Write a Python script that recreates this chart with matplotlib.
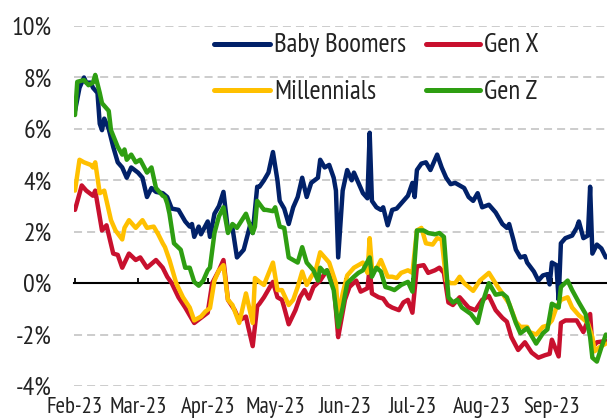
import os
import matplotlib
matplotlib.use("Agg")
import matplotlib.pyplot as plt
from matplotlib import font_manager as fm
from matplotlib.font_manager import FontProperties
from matplotlib.lines import Line2D
import pandas as pd

# ---------------- data (days since 2023-02-01, YoY % change) ----------------
bb_day = [0, 2, 4, 5, 7, 8, 10, 11, 12, 13, 15, 17, 19, 21, 23, 25, 28, 30, 32, 34, 36, 39, 41, 43, 46, 49,
          51, 52, 53, 55, 56, 59, 60, 62, 64, 66, 68, 70, 72, 75, 78, 79, 81, 82, 84, 86, 88, 90, 91, 93, 95,
          97, 99, 101, 103, 105, 108, 109, 111, 113, 115, 116, 117, 119, 120, 121, 123, 124, 128, 130, 131,
          132, 134, 136, 137, 139, 141, 143, 145, 148, 150, 151, 152, 154, 156, 158, 160, 161, 163, 165, 167,
          169, 171, 173, 175, 177, 179, 181, 184, 187, 190, 192, 193, 195, 196, 198, 200, 201, 204, 206, 208,
          210, 211, 212, 214, 215, 216, 218, 221, 223, 224, 226, 228, 229, 230, 232, 234, 236]
bb_val = [6.7, 7.6, 8.0, 7.8, 7.8, 7.6, 7.4, 6.2, 5.95, 6.4, 6.0, 5.3, 4.7, 4.5, 4.1, 4.5, 4.3, 4.1, 3.35, 3.7,
          3.55, 3.5, 3.35, 2.9, 2.85, 2.4, 2.2, 2.3, 1.8, 2.2, 1.9, 2.4, 1.8, 2.7, 3.0, 3.55, 2.05, 2.15, 1.0,
          1.3, 2.3, 1.95, 3.75, 3.75, 4.0, 4.3, 5.1, 4.0, 3.2, 2.9, 2.3, 2.95, 3.35, 4.1, 3.35, 3.9, 4.1, 4.8,
          4.5, 4.6, 4.1, 3.6, 1.0, 3.6, 4.0, 4.4, 4.0, 4.3, 3.5, 3.3, 5.85, 3.2, 2.95, 2.85, 2.95, 2.25, 2.85,
          2.9, 3.1, 3.4, 3.9, 3.35, 4.4, 4.65, 4.7, 4.4, 4.8, 5.0, 4.5, 4.1, 3.85, 3.9, 3.8, 3.7, 3.35, 3.2,
          3.5, 2.95, 3.05, 2.75, 2.3, 2.15, 2.3, 1.65, 1.3, 1.0, 1.05, 0.8, 0.45, 0.1, 0.3, 0.35, -0.05, 0.8,
          0.7, -0.65, 1.55, 1.75, 1.85, 2.15, 2.4, 1.75, 1.85, 3.75, 1.15, 1.5, 1.35, 1.0]

gx_day = [0, 3, 5, 8, 9, 12, 14, 17, 19, 21, 24, 27, 29, 32, 36, 39, 41, 43, 46, 49, 53, 56, 59, 61, 64, 66,
          68, 71, 73, 76, 77, 79, 81, 82, 84, 88, 90, 92, 93, 95, 98, 100, 102, 104, 106, 109, 112, 115, 117,
          120, 122, 125, 127, 130, 131, 132, 135, 137, 139, 141, 144, 146, 148, 150, 152, 155, 157, 160, 162,
          164, 166, 168, 171, 175, 178, 181, 184, 187, 190, 192, 194, 197, 200, 203, 206, 209, 211, 212, 215,
          216, 218, 223, 226, 229, 230, 232, 236]
gx_val = [2.85, 3.8, 3.6, 3.4, 3.6, 2.05, 2.25, 1.15, 1.1, 0.6, 1.15, 0.9, 1.0, 0.6, 0.9, 0.6, 0.25, 0.0,
          -0.55, -0.95, -1.55, -1.35, -1.15, 0.0, 0.5, 0.9, -0.65, -1.05, -1.45, -1.3, -1.7, -2.45, -0.9, -0.8,
          -0.55, 0.05, -0.55, -0.65, -0.95, -1.6, -1.05, -0.55, -0.27, -0.6, -0.15, 0.1, 0.5, 0.0, -2.1, -0.65,
          -0.15, 0.1, -0.33, -0.2, 0.6, -0.4, -0.55, -0.6, -0.85, -0.95, -1.05, -0.75, -0.65, -1.15, 0.65, 0.7,
          0.4, 0.5, 0.6, 0.4, -0.75, -0.85, -0.55, -0.95, -1.05, -0.65, -0.5, -1.05, -1.35, -1.5, -2.1, -2.6,
          -2.3, -2.7, -2.9, -2.8, -2.75, -2.2, -2.85, -1.55, -1.45, -1.45, -1.9, -1.2, -2.5, -2.3, -2.25]

ml_day = [0, 2, 4, 7, 8, 9, 11, 13, 16, 18, 21, 22, 24, 27, 30, 32, 35, 37, 39, 40, 41, 42, 45, 48, 51, 53,
          56, 58, 60, 62, 64, 66, 68, 70, 73, 76, 79, 80, 82, 84, 88, 90, 92, 95, 97, 99, 101, 103, 105, 107,
          109, 111, 113, 116, 117, 119, 121, 124, 128, 130, 131, 132, 134, 136, 139, 141, 143, 145, 148, 150,
          152, 154, 156, 159, 161, 163, 165, 167, 169, 171, 173, 177, 180, 184, 188, 190, 193, 196, 198, 201,
          202, 205, 208, 210, 212, 214, 216, 219, 221, 224, 228, 230, 231, 233, 236]
ml_val = [3.6, 4.8, 4.7, 4.6, 4.5, 4.7, 3.5, 3.6, 2.45, 2.05, 1.7, 2.15, 2.45, 2.15, 2.45, 2.15, 2.2, 1.9,
          1.55, 1.4, 1.15, 0.9, 0.0, -0.55, -0.95, -1.45, -1.3, -1.1, -0.97, 0.1, 0.5, 0.7, -0.65, -0.85, -1.55,
          -0.4, -1.55, 0.2, 0.05, -0.07, 0.8, -0.27, -0.27, -0.85, -0.65, -0.15, 0.45, -0.07, 0.25, 0.5, 1.2,
          1.0, 0.8, 0.0, -1.3, -0.4, 0.3, 0.6, 0.8, 0.4, 1.75, 0.6, 0.55, 0.9, 0.25, 0.25, 0.2, 0.4, 0.5, 0.4,
          2.05, 2.15, 1.55, 1.5, 1.75, 1.7, 0.1, 0.0, 0.0, 0.25, 0.0, -0.3, 0.1, 0.4, -0.15, -0.4, -0.8, -1.5,
          -1.7, -1.7, -1.9, -2.0, -1.7, -1.65, -1.45, -0.95, -0.65, -0.55, -0.95, -1.25, -1.55, -2.1, -2.65,
          -2.5, -2.35]

gz_day = [0, 1, 4, 6, 8, 9, 11, 12, 15, 16, 19, 21, 22, 23, 25, 27, 29, 32, 34, 36, 39, 40, 41, 42, 44, 47,
          49, 51, 53, 55, 57, 59, 60, 62, 64, 66, 68, 70, 72, 76, 79, 80, 81, 84, 85, 88, 89, 91, 93, 95, 97,
          99, 101, 103, 104, 106, 108, 109, 111, 112, 115, 117, 119, 121, 124, 126, 128, 131, 132, 134, 136,
          138, 140, 142, 145, 148, 150, 152, 155, 157, 160, 162, 164, 166, 168, 170, 172, 176, 179, 181, 184,
          187, 190, 192, 195, 196, 198, 201, 204, 205, 208, 210, 212, 215, 216, 219, 221, 224, 227, 229, 230,
          232, 234, 236]
gz_val = [6.54, 7.83, 7.9, 7.7, 7.8, 8.1, 7.4, 7.0, 6.7, 5.95, 5.3, 5.0, 5.2, 4.8, 5.0, 4.7, 4.8, 4.3, 4.5,
          3.7, 3.4, 3.35, 3.1, 2.7, 1.55, 1.3, 0.6, 0.6, 0.05, -0.1, 0.1, 0.5, 0.6, 1.95, 2.6, 2.95, 1.95, 2.3,
          2.15, 2.7, 1.95, 2.2, 3.2, 2.85, 2.85, 2.8, 2.95, 2.2, 2.15, 1.0, 0.9, 0.8, 1.4, 0.8, 0.7, 0.5, 0.1,
          0.6, 0.4, 0.5, -0.27, -1.7, -0.95, 0.0, 0.25, 0.4, 0.5, 1.0, 0.25, 0.6, 0.45, -0.15, -0.2, -0.27,
          -0.07, 0.05, -0.33, 2.05, 2.05, 1.95, 1.9, 1.95, 1.8, -0.55, -0.75, -0.65, -0.95, -1.2, -1.55, -0.8,
          0.0, -0.45, -0.4, -0.55, -1.3, -1.55, -1.95, -1.75, -2.2, -2.35, -1.95, -1.8, -0.8, -0.95, -0.15,
          0.1, -0.27, -0.75, -1.2, -2.1, -2.9, -3.05, -2.5, -2.0]

series_names = ["Baby Boomers", "Millennials", "Gen X", "Gen Z"]
series_colors = ["#012169", "#FFC000", "#C8102E", "#2E9E12"]
y_ticks = [-4, -2, 0, 2, 4, 6, 8, 10]
month_starts = ["2023-02-01", "2023-03-01", "2023-04-01", "2023-05-01",
                "2023-06-01", "2023-07-01", "2023-08-01", "2023-09-01"]
month_labels = ["Feb-23", "Mar-23", "Apr-23", "May-23", "Jun-23", "Jul-23", "Aug-23", "Sep-23"]


# ---------------- font: prefer a narrow / condensed, light sans ----------------
def pick_font():
    best, best_score = None, -1
    for f in fm.fontManager.ttflist:
        base_name = os.path.basename(f.fname).lower()
        nm = f.name.lower()
        if f.style != "normal" or "mono" in nm or "serif" in nm or "cjk" in nm:
            continue
        w = f.weight if isinstance(f.weight, int) else 400
        if w not in (300, 400):
            continue
        score = 0
        if "narrow" in nm or "narrow" in base_name:
            score = 5
        elif "semicondensed" in base_name or "semi condensed" in nm:
            score = 3
        elif "extracondensed" in base_name or "extra condensed" in nm:
            score = 2
        elif "condensed" in base_name or "condensed" in nm or f.stretch == "condensed":
            score = 4
        if score and ("sans" in nm or "roboto" in nm or "lato" in nm or "inter" in nm):
            score = score * 2 + (1 if w == 300 else 0)
            if score > best_score:
                best, best_score = f.fname, score
    if best is None:
        best = fm.findfont(FontProperties(family="Liberation Sans"))
    return best


font_file = pick_font()
plt.rcParams["lines.scale_dashes"] = False
text_color = "#222222"

fig = plt.figure(figsize=(6.07, 4.19), dpi=100)
renderer = fig.canvas.get_renderer()


def size_for(text, target_px):
    t = fig.text(0, 0, text, fontproperties=FontProperties(fname=font_file, size=10))
    w = t.get_window_extent(renderer).width
    t.remove()
    return 10.0 * target_px / w


ytick_fs = size_for("10%", 40)
xtick_fs = min(ytick_fs, size_for("Feb-23", 56))
leg_fs = size_for("Baby Boomers", 132)
ytick_fp = FontProperties(fname=font_file, size=ytick_fs)
xtick_fp = FontProperties(fname=font_file, size=xtick_fs)
leg_fp = FontProperties(fname=font_file, size=leg_fs)

base = pd.Timestamp("2023-02-01")


def to_dates(days):
    return base + pd.to_timedelta(days, unit="D")


ax = fig.add_axes([0.1217, 0.0788, 0.8783, 0.859])

data = {
    "Baby Boomers": (bb_day, bb_val),
    "Millennials": (ml_day, ml_val),
    "Gen X": (gx_day, gx_val),
    "Gen Z": (gz_day, gz_val),
}
draw_order = ["Baby Boomers", "Gen X", "Millennials", "Gen Z"]
for name in draw_order:
    d, v = data[name]
    c = series_colors[series_names.index(name)]
    ax.plot(to_dates(d), v, color=c, lw=3.2, zorder=3,
            solid_joinstyle="round", solid_capstyle="round", label=name)

ax.set_ylim(-4, 10)
ax.set_xlim(base - pd.Timedelta(hours=12), base + pd.Timedelta(days=236.5))

for t in y_ticks:
    if t != 0:
        ax.axhline(t, color="#BFBFBF", lw=1.1, ls=(0, (5.8, 3.6)), zorder=1)

ax.set_yticks(y_ticks)
ax.set_yticklabels([f"{t}%" for t in y_ticks])
ax.set_xticks(pd.to_datetime(month_starts))
ax.set_xticklabels(month_labels)

for s in ["left", "right", "bottom"]:
    ax.spines[s].set_visible(False)
ax.spines["top"].set_position(("data", 0))
ax.spines["top"].set_color("black")
ax.spines["top"].set_linewidth(1.5)
ax.spines["top"].set_zorder(2.5)

ax.tick_params(axis="x", top=True, bottom=False, labeltop=False, labelbottom=True,
               direction="out", length=3.6, width=1.3, color="black", pad=4.0)
ax.tick_params(axis="y", length=0, pad=16)

# ---------------- legend (two columns, drawn in figure pixels) ----------------
W, H = 607.0, 419.0
legend_layout = {  # name: (handle x0, handle x1, handle y, text x, text baseline y) in pixels from top-left
    "Baby Boomers": (214, 270, 44, 274, 52),
    "Millennials": (214, 270, 90.5, 274, 99),
    "Gen X": (426, 480, 44, 484, 52),
    "Gen Z": (426, 480, 90.5, 484, 99),
}
for name in series_names:
    x0, x1, yl, xt, yt = legend_layout[name]
    c = series_colors[series_names.index(name)]
    fig.add_artist(Line2D([x0 / W, x1 / W], [1 - yl / H, 1 - yl / H], transform=fig.transFigure,
                          color=c, lw=3.6, solid_capstyle="round"))
    fig.text(xt / W, 1 - yt / H, name, fontproperties=leg_fp, color=text_color,
             ha="left", va="baseline")

# apply tick-label fonts after a first draw so that they stick to the final tick objects
fig.canvas.draw()
for lbl in ax.get_xticklabels():
    lbl.set_fontproperties(xtick_fp)
    lbl.set_color(text_color)
for lbl in ax.get_yticklabels():
    lbl.set_fontproperties(ytick_fp)
    lbl.set_color(text_color)

fig.savefig("out.png", dpi=100)
